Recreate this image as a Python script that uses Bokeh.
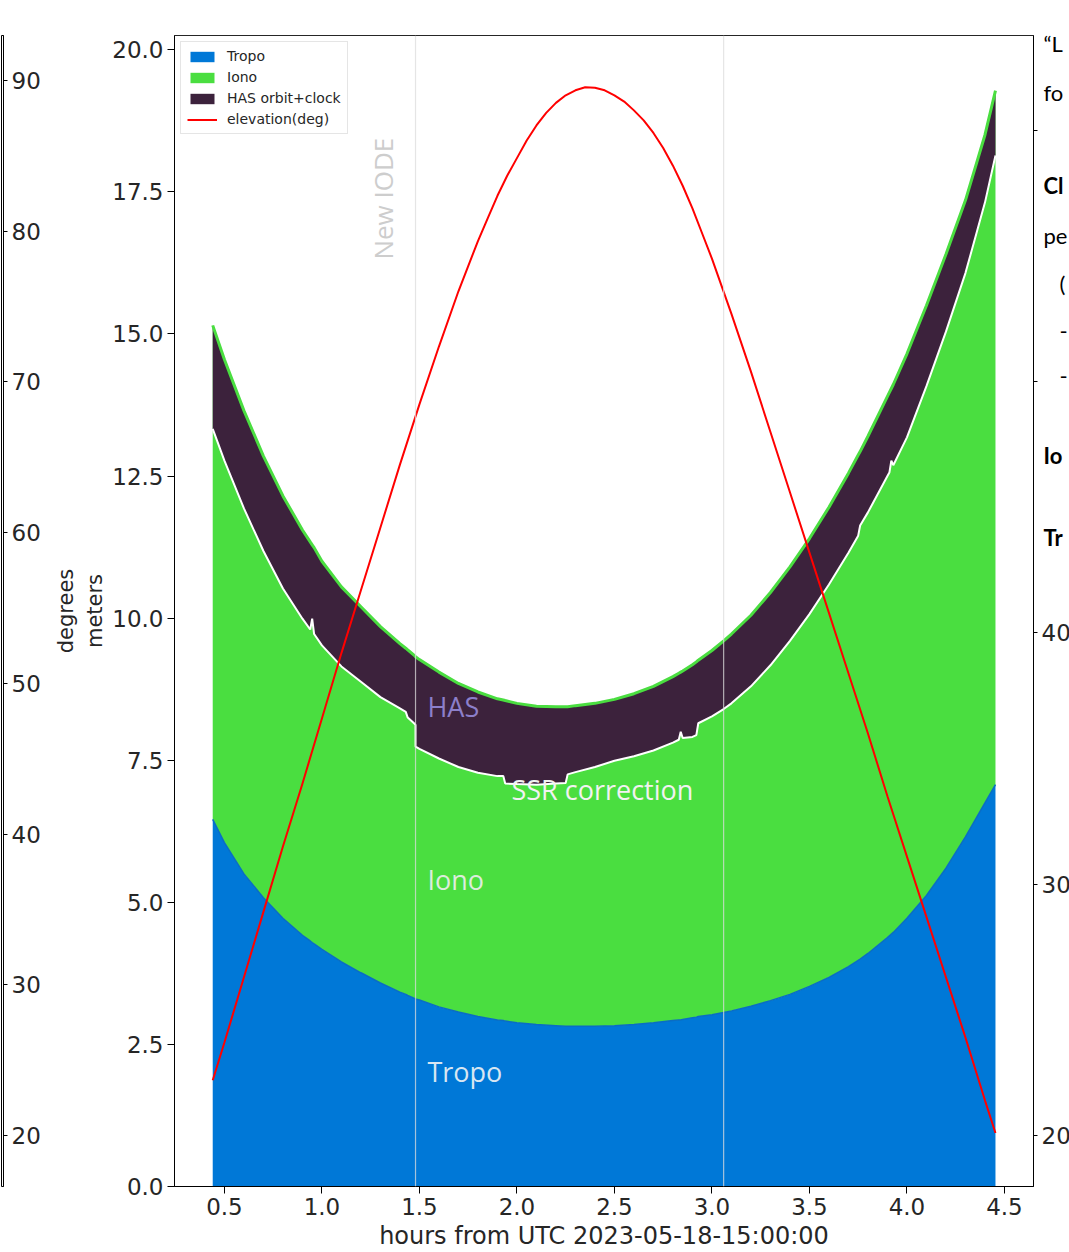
import numpy as np
from bokeh.plotting import figure
from bokeh.models import (Range1d, LinearAxis, FixedTicker, PrintfTickFormatter,
                          Legend, LegendItem, Span, Label, ColumnDataSource)
from bokeh.layouts import row
from bokeh.embed import file_html
from bokeh.resources import INLINE

# ---------------- data ----------------
hours = [0.44, 0.5, 0.6, 0.7, 0.8, 0.9, 0.94, 0.95, 0.96, 1.0, 1.1, 1.2, 1.3, 1.4,
         1.43, 1.44, 1.475, 1.48, 1.48, 1.5, 1.6, 1.7, 1.8, 1.9, 1.93, 1.94, 2.0,
         2.1, 2.2, 2.25, 2.26, 2.3, 2.4, 2.5, 2.6, 2.7, 2.8, 2.83, 2.84, 2.85, 2.9,
         2.92, 2.93, 3.0, 3.06, 3.1, 3.2, 3.3, 3.4, 3.5, 3.6, 3.7, 3.75, 3.76, 3.8,
         3.9, 3.91, 3.92, 3.93, 4.0, 4.1, 4.2, 4.3, 4.4, 4.454]
tropo = [6.46, 6.05, 5.50, 5.08, 4.72, 4.42, 4.32, 4.29, 4.27, 4.17, 3.95, 3.76, 3.58, 3.42,
         3.38, 3.36, 3.31, 3.30, 3.30, 3.28, 3.16, 3.07, 2.99, 2.93, 2.92, 2.91, 2.88,
         2.85, 2.83, 2.82, 2.82, 2.82, 2.82, 2.83, 2.85, 2.88, 2.92, 2.93, 2.93, 2.94, 2.97,
         2.98, 2.99, 3.02, 3.06, 3.09, 3.17, 3.27, 3.38, 3.52, 3.68, 3.87, 3.98, 4.00, 4.10,
         4.38, 4.41, 4.44, 4.47, 4.72, 5.12, 5.60, 6.15, 6.75, 7.07]
iono = [8.69, 8.50, 8.15, 7.77, 7.43, 7.13, 7.02, 7.00, 6.97, 6.83, 6.60, 6.44, 6.27, 6.13,
        6.09, 6.08, 6.03, 6.02, 6.02, 5.99, 5.89, 5.78, 5.71, 5.65, 5.64, 5.64, 5.62,
        5.60, 5.61, 5.62, 5.62, 5.64, 5.68, 5.74, 5.82, 5.92, 6.05, 6.10, 6.12, 6.13, 6.21,
        6.25, 6.27, 6.41, 6.54, 6.63, 6.88, 7.18, 7.52, 7.88, 8.27, 8.68, 8.89, 8.93, 9.10,
        9.52, 9.56, 9.60, 9.64, 9.93, 10.38, 10.80, 11.20, 11.75, 12.21]
has_orbit_clock = [1.82, 1.78, 1.72, 1.67, 1.63, 1.56, 1.54, 1.30, 1.52, 1.48, 1.40, 1.32, 1.24, 1.14,
                   1.12, 1.19, 1.20, 1.20, 1.58, 1.57, 1.52, 1.47, 1.42, 1.36, 1.34, 1.46, 1.42,
                   1.38, 1.35, 1.34, 1.19, 1.17, 1.12, 1.08, 1.10, 1.13, 1.16, 1.17, 1.05, 1.18, 1.27,
                   1.29, 1.11, 1.16, 1.20, 1.22, 1.25, 1.28, 1.30, 1.33, 1.36, 1.40, 1.42, 1.30, 1.34,
                   1.40, 1.41, 1.27, 1.42, 1.47, 1.42, 1.36, 1.28, 1.19, 1.14]

elev_hours = [0.44, 0.5, 0.6, 0.7, 0.8, 0.9, 1.0, 1.1, 1.2, 1.3, 1.4, 1.5, 1.6, 1.7, 1.8,
              1.85, 1.9, 1.95, 2.0, 2.05, 2.1, 2.15, 2.2, 2.25, 2.3, 2.35, 2.4, 2.45, 2.5,
              2.55, 2.6, 2.65, 2.7, 2.75, 2.8, 2.85, 2.9, 2.95, 3.0, 3.1, 3.2, 3.3, 3.4,
              3.5, 3.6, 3.7, 3.8, 3.9, 4.0, 4.1, 4.2, 4.3, 4.4, 4.454]
elevation_deg = [22.2, 23.7, 26.3, 28.9, 31.5, 34.0, 36.6, 39.2, 41.7, 44.2, 46.7, 49.1, 51.4, 53.6, 55.6,
                 56.5, 57.4, 58.2, 58.9, 59.6, 60.2, 60.7, 61.1, 61.4, 61.6, 61.72, 61.7, 61.6, 61.4,
                 61.15, 60.8, 60.4, 59.9, 59.3, 58.6, 57.8, 56.9, 55.9, 54.9, 52.7, 50.4, 48.0, 45.6,
                 43.2, 40.8, 38.4, 36.0, 33.5, 31.1, 28.7, 26.3, 23.9, 21.4, 20.1]

new_iode_hours = [1.48, 3.06]
x_ticks = [0.5, 1.0, 1.5, 2.0, 2.5, 3.0, 3.5, 4.0, 4.5]
y_ticks = [0.0, 2.5, 5.0, 7.5, 10.0, 12.5, 15.0, 17.5, 20.0]
elev_ticks = [20, 30, 40, 50, 60]
outer_deg_ticks = [20, 30, 40, 50, 60, 70, 80, 90]

# slide text cut by the right edge (text, height in meters of the plot)
frag_plain_text = ["\u201cL", "fo", "pe"]
frag_plain_y = [20.11, 19.24, 16.73]
frag_bold_text = ["Cl", "Io", "Tr"]
frag_bold_y = [17.61, 12.86, 11.42]
frag_indent_text = ["(", "-", "-"]
frag_indent_y = [15.88, 15.06, 14.27]

BLUE = "#0078d7"
GREEN = "#4ade40"
DARK = "#3c223c"
TXT = "#262626"
TICKFONT = "DejaVu Sans"

X0, X1 = 0.244, 4.649
Y0, Y1 = 0.0, 20.25

t = np.array(tropo)
top = t + np.array(iono)
lower = top - np.array(has_orbit_clock)
src = ColumnDataSource(dict(x=hours, tropo=t, top=top, lower=lower))
src_el = ColumnDataSource(dict(x=elev_hours, elev=elevation_deg))

# ---------------- main figure ----------------
p = figure(frame_width=859, frame_height=1151,
           x_range=Range1d(X0, X1), y_range=Range1d(Y0, Y1),
           output_backend="svg", toolbar_location=None,
           min_border_left=131, min_border_right=38, min_border_top=35, min_border_bottom=66)
p.xgrid.visible = False
p.ygrid.visible = False
p.outline_line_color = "black"
p.outline_line_alpha = 0.85
p.background_fill_color = "white"

r_tropo = p.varea(x="x", y1=0, y2="tropo", source=src, fill_color=BLUE)
r_iono = p.varea(x="x", y1="tropo", y2="top", source=src, fill_color=GREEN)
r_has = p.varea(x="x", y1="lower", y2="top", source=src, fill_color=DARK)
p.line("x", "tropo", source=src, line_color="#0a6dc4", line_width=1.5)
p.line("x", "lower", source=src, line_color="white", line_width=2)
p.line("x", "top", source=src, line_color=GREEN, line_width=3)

p.extra_y_ranges = {"elev": Range1d(17.97, 63.78)}
r_elev = p.line("x", "elev", source=src_el, y_range_name="elev", line_color="red", line_width=2)

for h in new_iode_hours:
    p.add_layout(Span(location=h, dimension="height", line_color="#dcdcdc",
                      line_alpha=0.75, line_width=1.2))

# axes
p.xaxis.ticker = FixedTicker(ticks=x_ticks)
p.xaxis.formatter = PrintfTickFormatter(format="%.1f")
p.xaxis.axis_label = "hours from UTC 2023-05-18-15:00:00"
p.yaxis.ticker = FixedTicker(ticks=y_ticks)
p.yaxis.formatter = PrintfTickFormatter(format="%.1f")
p.yaxis.axis_label = "degrees\nmeters"

ax_r = LinearAxis(y_range_name="elev", ticker=FixedTicker(ticks=elev_ticks),
                  formatter=PrintfTickFormatter(format="%d"))
ax_r.major_label_overrides = {50: "", 60: ""}
p.add_layout(ax_r, "right")

for ax in [p.xaxis[0], p.yaxis[0], ax_r]:
    ax.major_label_text_font = TICKFONT
    ax.major_label_text_font_size = "23px"
    ax.major_label_text_color = TXT
    ax.axis_label_text_font = TICKFONT
    ax.axis_label_text_font_size = "23px"
    ax.axis_label_text_font_style = "normal"
    ax.axis_label_text_color = TXT
    ax.minor_tick_line_color = None
    ax.major_tick_in = 0
    ax.major_tick_out = 7
    ax.major_label_standoff = 5
    ax.axis_line_color = "black"
    ax.major_tick_line_color = "black"
p.xaxis.axis_label_text_font_size = "24px"
p.xaxis.axis_label_standoff = 4
p.xaxis.major_label_standoff = 4
p.yaxis.axis_label_text_font_size = "21px"
p.yaxis.axis_label_standoff = 2
p.yaxis.major_label_standoff = 4
ax_r.major_tick_out = 4
ax_r.major_label_standoff = 4


def fragment_axis(ys, texts, style, standoff):
    ax = LinearAxis(ticker=FixedTicker(ticks=ys),
                    major_label_overrides={y: s for y, s in zip(ys, texts)})
    ax.axis_line_color = None
    ax.major_tick_line_color = None
    ax.minor_tick_line_color = None
    ax.major_tick_in = 0
    ax.major_tick_out = 0
    ax.major_label_standoff = standoff
    ax.major_label_text_font = "Lato"
    ax.major_label_text_font_size = "22px"
    ax.major_label_text_font_style = style
    ax.major_label_text_color = "black"
    p.add_layout(ax, "right")


fragment_axis(frag_plain_y, frag_plain_text, "normal", -30)
fragment_axis(frag_bold_y, frag_bold_text, "bold", -30)
fragment_axis(frag_indent_y, frag_indent_text, "normal", -14)

# legend
legend = Legend(items=[LegendItem(label="Tropo", renderers=[r_tropo]),
                       LegendItem(label="Iono", renderers=[r_iono]),
                       LegendItem(label="HAS orbit+clock", renderers=[r_has]),
                       LegendItem(label="elevation(deg)", renderers=[r_elev])],
                location="top_left", margin=6, padding=6, spacing=5,
                glyph_width=30, glyph_height=13, label_height=15, label_standoff=10,
                label_text_font=TICKFONT, label_text_font_size="14px",
                label_text_color=TXT, border_line_color="#cccccc",
                background_fill_alpha=0.85)
p.add_layout(legend)

# title
p.add_layout(Label(x=(X0 + X1) / 2, y=Y1, y_offset=17, text="L1_CA(6)",
                   text_align="center", text_baseline="middle",
                   text_font=TICKFONT, text_font_size="25px", text_color=TXT))

# in-chart annotations
ann = dict(text_font="Open Sans", text_font_size="27px", text_baseline="middle",
           text_align="left")
p.add_layout(Label(x=1.541, y=8.44, text="HAS", text_color="#8c7fca", **ann))
p.add_layout(Label(x=1.972, y=6.98, text="SSR correction", text_color="#f2f2f2", **ann))
p.add_layout(Label(x=1.541, y=5.40, text="Iono", text_color="#dcecdc", **ann))
p.add_layout(Label(x=1.541, y=2.02, text="Tropo", text_color="#d8e6f2", **ann))
p.add_layout(Label(x=1.315, y=17.38, text="New IODE", angle=np.pi / 2,
                   text_font="Open Sans", text_font_size="26px", text_color="#cdcdcd",
                   text_align="center", text_baseline="middle"))

# ---------------- outer degree axis (left strip) ----------------
fd = figure(frame_width=2, frame_height=1151, x_range=Range1d(0, 1),
            y_range=Range1d(16.62, 92.99), x_axis_location=None, y_axis_location="right",
            output_backend="svg", toolbar_location=None,
            min_border_left=1, min_border_right=38, min_border_top=35, min_border_bottom=66)
fd.xgrid.visible = False
fd.ygrid.visible = False
fd.outline_line_color = "black"
ay = fd.yaxis[0]
ay.ticker = FixedTicker(ticks=outer_deg_ticks)
ay.formatter = PrintfTickFormatter(format="%d")
ay.major_label_text_font = TICKFONT
ay.major_label_text_font_size = "23px"
ay.major_label_text_color = TXT
ay.minor_tick_line_color = None
ay.major_tick_in = 0
ay.major_tick_out = 4
ay.major_label_standoff = 4

layout = row(fd, p)
open("out.html", "w").write(file_html(layout, INLINE))
